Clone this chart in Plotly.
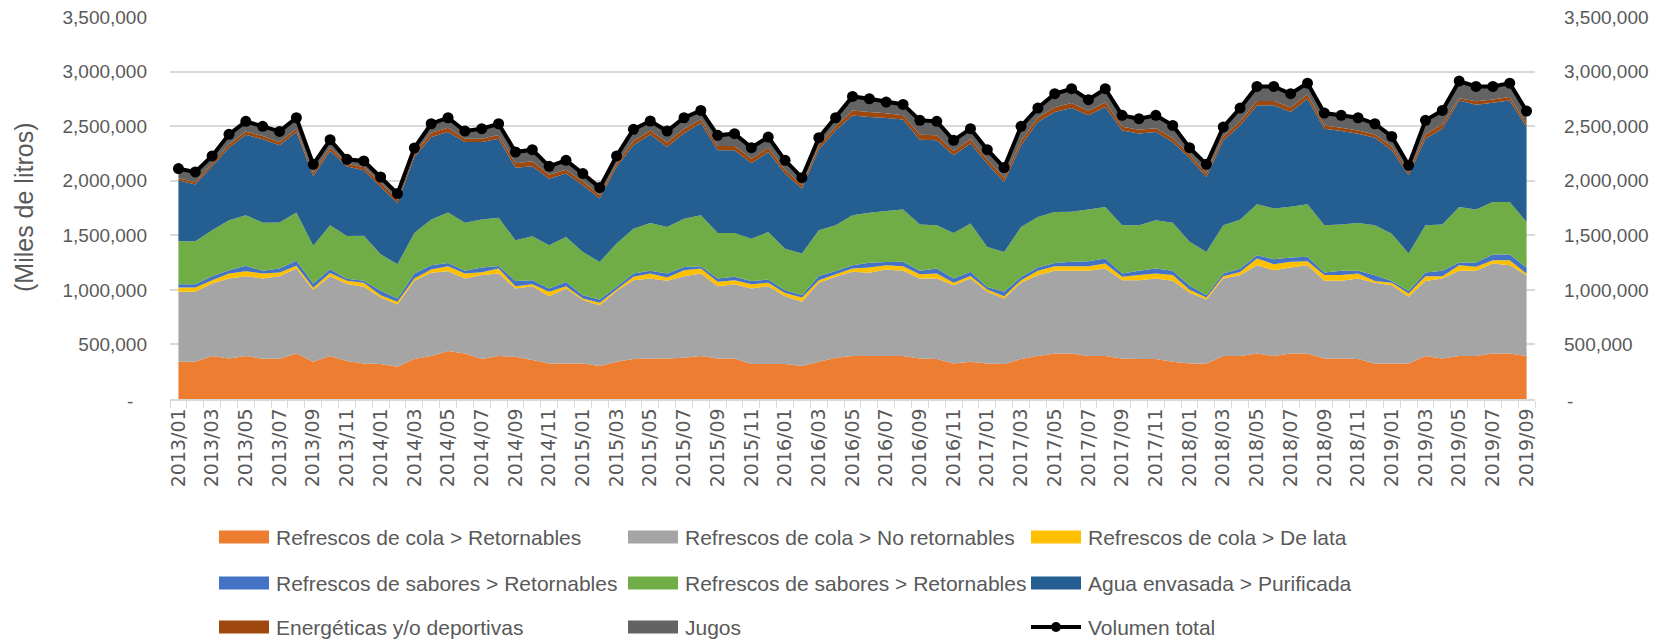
import plotly.graph_objects as go

# monthly categories 2013/01 .. 2019/09
months = [f"{y}/{m:02d}" for y in range(2013, 2020) for m in range(1, 13)][:81]

# values in thousands of "miles de litros"
cola_ret = [342, 342, 393, 372, 393, 369, 369, 418, 342, 393, 348, 326, 320, 296, 366, 393, 439, 418, 366, 393,
            387, 357, 326, 326, 326, 302, 342, 366, 372, 372, 378, 393, 372, 372, 320, 320, 320, 302, 342, 378,
            393, 393, 393, 393, 372, 366, 326, 342, 326, 320, 366, 393, 418, 418, 393, 393, 372, 366, 366, 342,
            326, 326, 393, 393, 418, 393, 418, 418, 372, 372, 366, 326, 326, 326, 393, 372, 393, 393, 418, 418, 393]
cola_noret = [640, 640, 665, 732, 732, 735, 756, 778, 656, 732, 705, 702, 610, 570, 717, 763, 732, 686, 769, 756,
              625, 677, 616, 686, 580, 558, 647, 723, 732, 711, 747, 756, 662, 680, 692, 714, 622, 589, 723, 741,
              772, 763, 793, 781, 732, 738, 717, 763, 656, 601, 698, 741, 756, 756, 781, 802, 717, 723, 738, 741,
              647, 586, 711, 741, 808, 787, 787, 808, 711, 711, 738, 738, 717, 610, 689, 732, 781, 781, 824, 808, 741]
cola_lata = [40, 40, 30, 46, 46, 46, 34, 24, 21, 30, 30, 37, 21, 24, 21, 30, 46, 46, 27, 46,
             21, 18, 40, 21, 15, 21, 15, 30, 46, 30, 55, 46, 40, 37, 40, 30, 30, 40, 24, 24,
             30, 49, 40, 43, 40, 46, 21, 21, 21, 21, 24, 40, 43, 43, 43, 46, 30, 46, 46, 52,
             27, 18, 21, 30, 61, 55, 52, 37, 52, 52, 46, 18, 21, 30, 43, 21, 52, 37, 30, 46, 15]
sab_ret_a = [30, 30, 37, 30, 49, 24, 37, 46, 40, 34, 18, 18, 40, 30, 46, 40, 30, 24, 43, 24,
             49, 37, 30, 40, 30, 30, 24, 30, 24, 37, 30, 21, 30, 30, 30, 30, 24, 21, 37, 30,
             30, 43, 30, 40, 30, 46, 40, 40, 24, 40, 30, 30, 30, 40, 46, 46, 30, 40, 46, 40,
             40, 21, 24, 30, 30, 46, 40, 40, 24, 40, 24, 52, 18, 24, 34, 49, 24, 40, 52, 52, 55]
sab_ret_b = [393, 393, 421, 458, 464, 442, 421, 442, 345, 403, 393, 412, 336, 314, 372, 418, 461, 442, 439, 442,
             372, 403, 397, 412, 397, 345, 397, 412, 439, 427, 442, 467, 418, 403, 387, 436, 381, 381, 421, 418,
             458, 458, 467, 479, 424, 397, 418, 442, 366, 366, 458, 464, 467, 458, 473, 473, 442, 418, 442, 439,
             400, 397, 442, 448, 467, 464, 464, 482, 433, 424, 439, 458, 433, 342, 433, 424, 509, 485, 482, 482, 418]
agua = [558, 521, 586, 665, 738, 763, 708, 738, 637, 680, 637, 601, 616, 561, 695, 756, 738, 738, 711, 723,
        665, 641, 610, 580, 610, 580, 702, 763, 811, 732, 784, 845, 756, 756, 692, 732, 686, 595, 738, 869,
        915, 878, 851, 824, 778, 778, 711, 732, 763, 641, 747, 869, 915, 952, 863, 915, 869, 839, 808, 741,
        769, 686, 778, 863, 906, 946, 869, 967, 885, 857, 817, 802, 763, 717, 793, 878, 976, 961, 909, 930, 869]
energeticas = [20, 20, 25, 30, 30, 30, 30, 30, 30, 30, 25, 30, 35, 30, 30, 40, 40, 30, 30, 35,
               40, 45, 35, 35, 35, 30, 30, 40, 35, 40, 40, 35, 40, 40, 40, 40, 35, 30, 35, 35,
               45, 45, 45, 40, 45, 45, 40, 40, 35, 35, 40, 40, 45, 45, 40, 45, 35, 35, 35, 35,
               30, 35, 35, 40, 40, 40, 40, 40, 30, 30, 30, 30, 35, 30, 40, 40, 20, 30, 30, 30, 30]
jugos = [87, 93, 70, 92, 92, 89, 98, 101, 80, 74, 39, 55, 57, 55, 52, 82, 91, 71, 92, 102,
         103, 108, 78, 87, 72, 71, 71, 106, 87, 106, 100, 81, 97, 113, 100, 97, 87, 71, 75, 81,
         129, 123, 101, 100, 132, 129, 97, 97, 93, 96, 134, 88, 123, 132, 103, 123, 102, 102, 118, 118,
         65, 81, 87, 119, 134, 134, 128, 103, 113, 113, 116, 98, 93, 62, 128, 128, 157, 138, 119, 129, 116]
total = [2111, 2080, 2227, 2425, 2544, 2498, 2452, 2577, 2150, 2376, 2196, 2181, 2034, 1882, 2300, 2522, 2577, 2455, 2477, 2522,
         2263, 2284, 2132, 2187, 2065, 1937, 2227, 2471, 2547, 2455, 2577, 2644, 2416, 2431, 2303, 2400, 2187, 2028, 2394, 2577,
         2772, 2751, 2721, 2699, 2553, 2544, 2370, 2477, 2284, 2120, 2498, 2666, 2797, 2843, 2742, 2843, 2599, 2568, 2599, 2507,
         2303, 2150, 2492, 2666, 2864, 2864, 2797, 2894, 2620, 2599, 2577, 2522, 2406, 2141, 2553, 2644, 2913, 2864, 2864, 2894, 2638]

series = [
    ("Refrescos de cola > Retornables", cola_ret, "#ED7D31"),
    ("Refrescos de cola > No retornables", cola_noret, "#A5A5A5"),
    ("Refrescos de cola > De lata", cola_lata, "#FFC000"),
    ("Refrescos de sabores > Retornables", sab_ret_a, "#4472C4"),
    ("Refrescos de sabores > Retornables", sab_ret_b, "#70AD47"),
    ("Agua envasada > Purificada", agua, "#255E91"),
    ("Energéticas y/o deportivas", energeticas, "#9E480E"),
    ("Jugos", jugos, "#636363"),
]

yticks = [0, 500000, 1000000, 1500000, 2000000, 2500000, 3000000, 3500000]
yticktext = ["", "500,000", "1,000,000", "1,500,000", "2,000,000", "2,500,000", "3,000,000", "3,500,000"]

# the page body adds an 8px offset, so the figure is drawn 8px smaller
OFF = 8
W, H = 1675 - OFF, 641 - OFF
L, R, T, B = 170 - OFF, 140, 17 - OFF, 242
FONT = "Liberation Sans"
TXT = "#595959"
GRID = "#D9D9D9"

fig = go.Figure()
for name, vals, color in series:
    fig.add_trace(go.Scatter(
        x=months, y=[v * 1000 for v in vals], name=name, stackgroup="one",
        mode="none", fillcolor=color, showlegend=False,
    ))

fig.add_trace(go.Scatter(
    x=months, y=[v * 1000 for v in total], name="Volumen total", yaxis="y2",
    mode="lines+markers", line=dict(color="black", width=4),
    marker=dict(color="black", size=11), showlegend=False,
))

ticktext_x = [m if i % 2 == 0 else "" for i, m in enumerate(months)]

fig.update_layout(
    width=W, height=H,
    margin=dict(l=L, r=R, t=T, b=B, autoexpand=False),
    plot_bgcolor="white", paper_bgcolor="white",
    font=dict(family=FONT, color=TXT, size=19),
    xaxis=dict(
        type="category", range=[-0.5, 80.5], tickmode="array",
        tickvals=months, ticktext=ticktext_x, tickangle=-90, automargin=False,
        tickson="boundaries", ticks="outside", ticklen=7, tickcolor=GRID,
        showline=True, linecolor=GRID, linewidth=1.5, showgrid=False,
        tickfont=dict(family="DejaVu Sans", size=19, color=TXT),
    ),
    yaxis=dict(
        range=[0, 3500000], tickmode="array", tickvals=yticks, ticktext=yticktext,
        showgrid=True, gridcolor=GRID, gridwidth=1.5, zeroline=False, automargin=False,
        ticklabelstandoff=22, ticklabeloverflow="allow", tickfont=dict(size=19),
    ),
    yaxis2=dict(
        range=[0, 3500000], overlaying="y", side="right", tickmode="array",
        tickvals=yticks, ticktext=yticktext, showgrid=False, zeroline=False, automargin=False,
        ticklabelstandoff=28, ticklabeloverflow="allow", tickfont=dict(size=19),
    ),
)


# page pixel -> paper coordinates
def px_x(px):
    return (px - OFF - L) / (W - L - R)


def px_y(py):
    return (H - B - (py - OFF)) / (H - T - B)


# zero labels in accounting style
fig.add_annotation(x=px_x(130), y=px_y(401), xref="paper", yref="paper", text="-",
                   showarrow=False, xanchor="center", yanchor="middle", font=dict(size=19))
fig.add_annotation(x=px_x(1570), y=px_y(401), xref="paper", yref="paper", text="-",
                   showarrow=False, xanchor="center", yanchor="middle", font=dict(size=19))

fig.add_annotation(x=px_x(24), y=px_y(208), xref="paper", yref="paper", text="(Miles de litros)",
                   textangle=-90, showarrow=False, xanchor="center", yanchor="middle",
                   font=dict(size=25))

# legend drawn by hand (3 columns x 3 rows)
col_x = [219, 628, 1031]
row_y = [537, 583, 627]
legend_items = [(name, color) for name, _, color in series] + [("Volumen total", None)]
for k, (name, color) in enumerate(legend_items):
    r, c = divmod(k, 3)
    if k == 8:
        r, c = 2, 2
    x0 = col_x[c]
    yc = row_y[r]
    if color:
        fig.add_shape(type="rect", xref="paper", yref="paper",
                      x0=px_x(x0), x1=px_x(x0 + 50), y0=px_y(yc + 6.5), y1=px_y(yc - 6.5),
                      fillcolor=color, line=dict(width=0))
    else:
        fig.add_shape(type="line", xref="paper", yref="paper",
                      x0=px_x(x0), x1=px_x(x0 + 50), y0=px_y(yc), y1=px_y(yc),
                      line=dict(color="black", width=4))
        fig.add_shape(type="circle", xref="paper", yref="paper",
                      x0=px_x(x0 + 20), x1=px_x(x0 + 30), y0=px_y(yc + 5), y1=px_y(yc - 5),
                      fillcolor="black", line=dict(width=0))
    fig.add_annotation(x=px_x(x0 + 55), y=px_y(yc), xref="paper", yref="paper", text=name,
                       showarrow=False, xanchor="left", yanchor="middle", font=dict(size=21))

fig.write_html("out.html")
